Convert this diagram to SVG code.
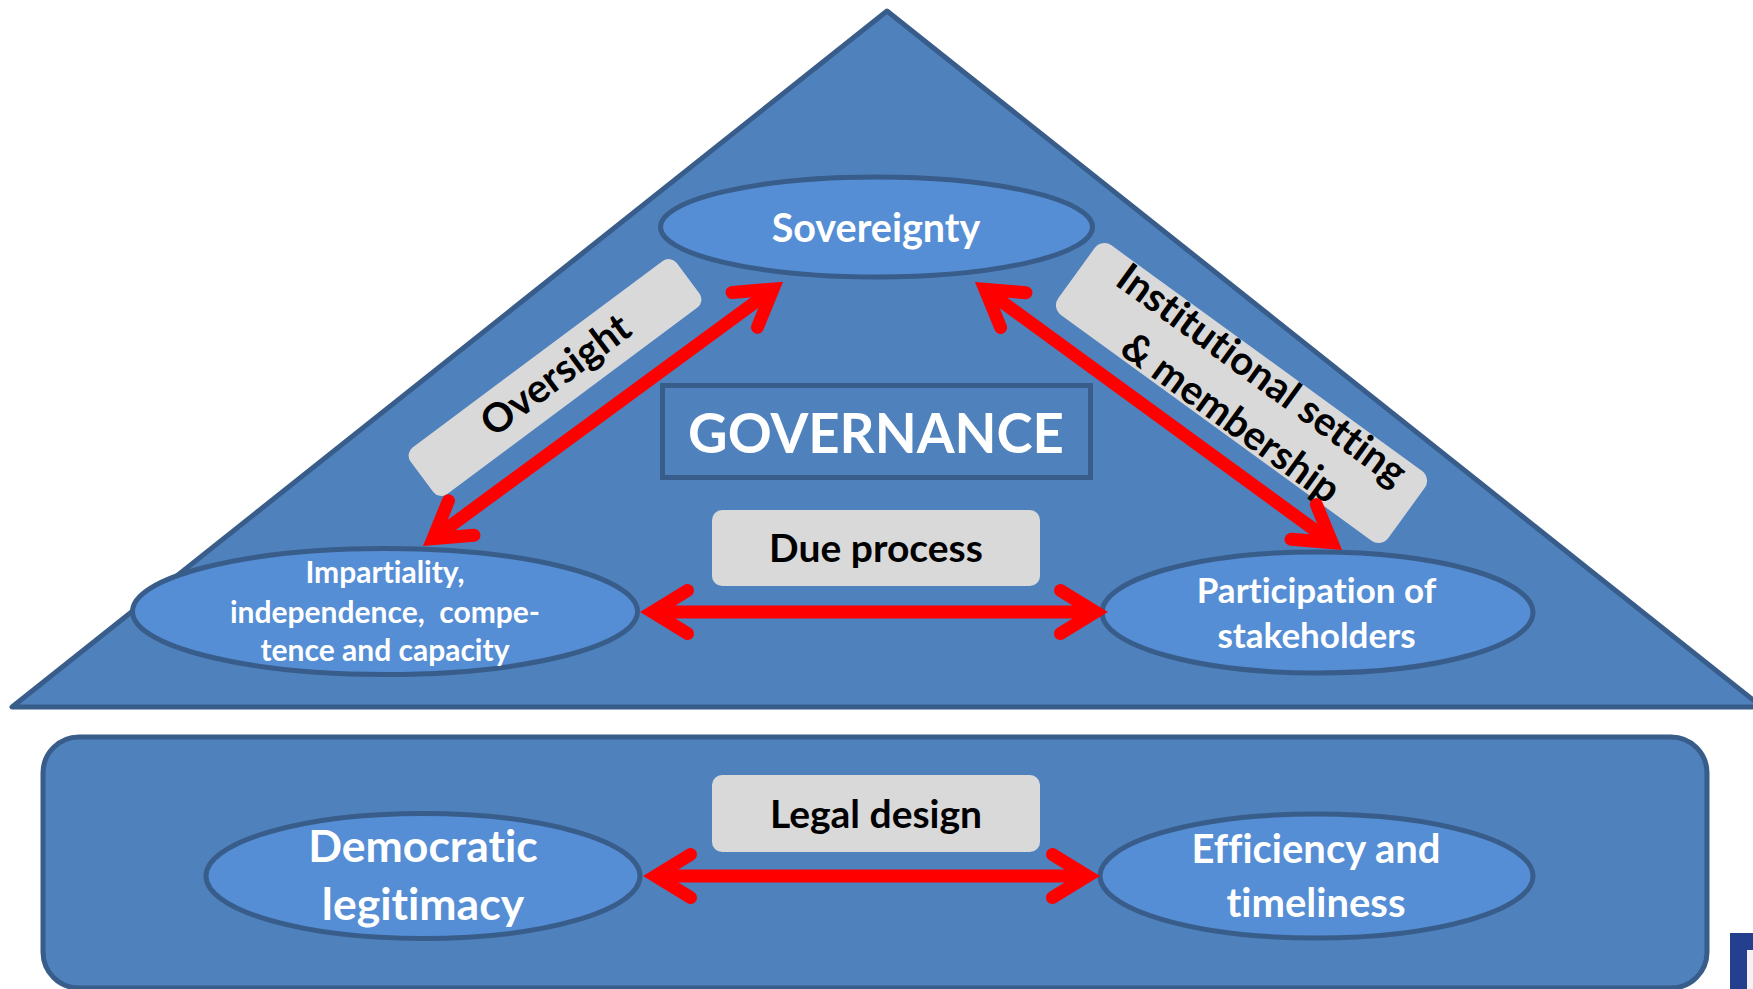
<svg xmlns="http://www.w3.org/2000/svg" width="1753" height="989" viewBox="0 0 1753 989">
<defs>
<style>
.shape{fill:#4f81bd;stroke:#385d8a;stroke-width:5;stroke-linejoin:round}
.node{fill:#558ed5;stroke:#385d8a;stroke-width:5}
.tag{fill:#d9d9d9}
.wt,.bt{font-family:Lato,"Open Sans","Liberation Sans",sans-serif;font-weight:bold;text-anchor:middle;font-variant-ligatures:none;font-feature-settings:"liga" 0,"dlig" 0}
.wt{fill:#ffffff}
.bt{fill:#000000}
.conn{stroke:#ff0000;stroke-width:13;fill:none;marker-start:url(#ah);marker-end:url(#ah)}
</style>
<marker id="ah" markerUnits="userSpaceOnUse" markerWidth="120" markerHeight="120" viewBox="-60 -60 120 120" refX="0" refY="0" orient="auto-start-reverse" overflow="visible">
<path d="M-35,-21.5 L0,0 L-35,21.5" fill="none" stroke="#ff0000" stroke-width="13" stroke-linecap="round" stroke-linejoin="miter"/>
</marker>
</defs>
<rect x="0" y="0" width="1753" height="989" fill="#ffffff"/>
<g id="triangle">
<polygon class="shape" points="887,11 12,707 1762,707"/>
</g>
<g id="base">
<rect class="shape" x="43" y="737" width="1664" height="251" rx="36" ry="36"/>
</g>
<g id="logo">
<rect x="1730" y="933" width="30" height="60" fill="#243f8e"/>
<rect x="1747" y="950" width="10" height="45" fill="#f2f2f7"/>
</g>
<g id="governance">
<rect x="662.5" y="385.5" width="428" height="92" fill="none" stroke="#385d8a" stroke-width="5"/>
<text class="wt" x="876" y="453" font-size="54.5">GOVERNANCE</text>
</g>
<g id="sovereignty">
<ellipse class="node" cx="876.5" cy="227" rx="216" ry="50"/>
<text class="wt" x="876" y="242" font-size="39.5">Sovereignty</text>
</g>
<g id="impartiality">
<ellipse class="node" cx="385" cy="611.5" rx="252.5" ry="63"/>
<text class="wt" font-size="30" xml:space="preserve"><tspan x="385" y="583">Impartiality,</tspan><tspan x="385" y="623">independence,  compe-</tspan><tspan x="385" y="661">tence and capacity</tspan></text>
</g>
<g id="participation">
<ellipse class="node" cx="1317.5" cy="612.5" rx="215.5" ry="60.5"/>
<text class="wt" font-size="35"><tspan x="1316.5" y="603">Participation of</tspan><tspan x="1316.5" y="648">stakeholders</tspan></text>
</g>
<g id="democratic">
<ellipse class="node" cx="423" cy="876" rx="217" ry="62.5"/>
<text class="wt" font-size="44.5"><tspan x="423" y="862">Democratic</tspan><tspan x="423" y="920">legitimacy</tspan></text>
</g>
<g id="efficiency">
<ellipse class="node" cx="1316.5" cy="876" rx="216.5" ry="62"/>
<text class="wt" font-size="40"><tspan x="1316" y="863">Efficiency and</tspan><tspan x="1316" y="917">timeliness</tspan></text>
</g>
<g id="due-process">
<rect class="tag" x="712" y="510" width="328" height="76" rx="10" ry="10"/>
<text class="bt" x="876" y="562" font-size="39">Due process</text>
</g>
<g id="legal-design">
<rect class="tag" x="712" y="775" width="328" height="77" rx="10" ry="10"/>
<text class="bt" x="876" y="828" font-size="39">Legal design</text>
</g>
<g id="oversight" transform="translate(555,377.5) rotate(-36.7)">
<rect class="tag" x="-166" y="-29" width="332" height="58" rx="10" ry="10"/>
<text class="bt" x="2" y="12" font-size="40">Oversight</text>
</g>
<g id="institutional" transform="translate(1241.5,393) rotate(36)">
<rect class="tag" x="-204" y="-43" width="408" height="86" rx="12" ry="12"/>
<text class="bt" font-size="40"><tspan x="6" y="-13">Institutional setting</tspan><tspan x="6" y="40">&amp; membership</tspan></text>
</g>
<g id="connectors">
<line class="conn" x1="433" y1="538.7" x2="773" y2="289.1"/>
<line class="conn" x1="985" y1="289.4" x2="1332" y2="542.6"/>
<line class="conn" x1="652.5" y1="612" x2="1095.5" y2="612"/>
<line class="conn" x1="655.5" y1="876" x2="1087.5" y2="876"/>
</g>
</svg>
